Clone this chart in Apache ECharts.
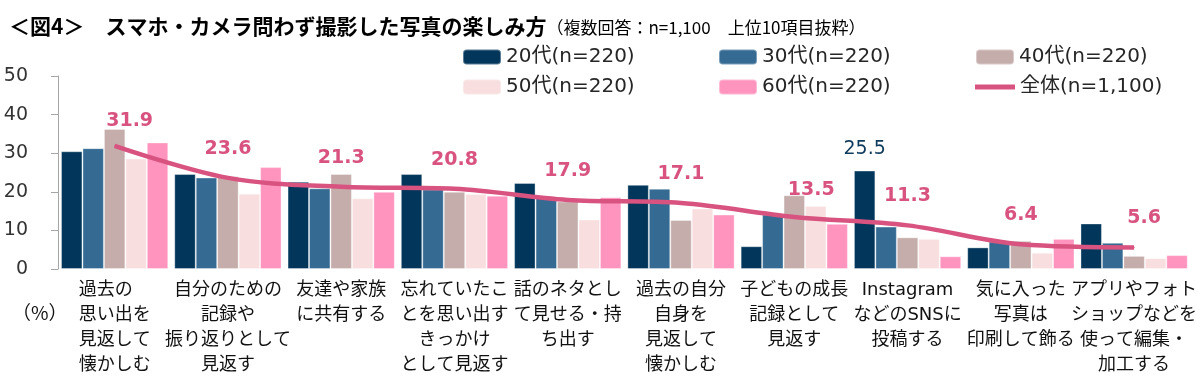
<!DOCTYPE html>
<html>
<head>
<meta charset="utf-8">
<script src="https://cdn.jsdelivr.net/npm/echarts@6/dist/echarts.min.js"></script>
<style>
html,body{margin:0;padding:0;background:#fff;}
#c{width:1200px;height:382px;}
</style>
</head>
<body>
<div id="c"></div>
<script>
// ---- data ----
const categories = [
  "過去の\u3000\n思い出を\n見返して\n懐かしむ",
  "自分のための\n記録や\n振り返りとして\n見返す",
  "友達や家族\nに共有する",
  "忘れていたこ\nとを思い出す\nきっかけ\nとして見返す",
  "話のネタとし\nて見せる・持\nち出す",
  "過去の自分\n自身を\n見返して\n懐かしむ",
  "子どもの成長\n記録として\n見返す",
  "Instagram\nなどのSNSに\n投稿する",
  "気に入った\n写真は\n印刷して飾る",
  "アプリやフォト\nショップなどを\n使って編集・\n加工する"
];
const seriesNames = ["20代(n=220)", "30代(n=220)", "40代(n=220)", "50代(n=220)", "60代(n=220)", "全体(n=1,100)"];
const age20 = [30.5, 24.6, 22.6, 24.6, 22.3, 21.8, 5.9, 25.5, 5.6, 11.8];
const age30 = [31.3, 23.7, 20.9, 20.6, 18.6, 20.8, 14.1, 11.0, 7.1, 6.8];
const age40 = [36.3, 24.0, 24.6, 20.0, 17.5, 12.7, 19.1, 8.2, 7.3, 3.4];
const age50 = [28.6, 19.5, 18.3, 19.4, 12.8, 15.7, 16.3, 7.8, 4.2, 2.8];
const age60 = [32.8, 26.4, 20.0, 19.0, 18.6, 14.1, 11.7, 3.3, 7.8, 3.6];
const total = [31.9, 23.6, 21.3, 20.8, 17.9, 17.1, 13.5, 11.3, 6.4, 5.6];
const yTicks = [0, 10, 20, 30, 40, 50];
const titleMain = "＜図4＞　スマホ・カメラ問わず撮影した写真の楽しみ方";
const titleSub = "（複数回答：n=1,100　上位10項目抜粋）";
const unitLabel = "（%）";
const labeledBar = { series: 0, index: 7 }; // 20代 Instagram value shown

// ---- styles ----
const colors = ["#02375B", "#356B93", "#C5ADAB", "#F8DEDE", "#FF95BF", "#D8537F"];
const lineLabelShift = [[15, 4], [0, 0], [0, 0], [0, 0], [0, 0], [0, 0], [17, 2], [0, 0], [0, 0], [10, 0]];
const LATIN = "'DejaVu Sans','Noto Sans CJK JP'";
const CJK = "'Noto Sans CJK JP','DejaVu Sans'";

const chart = echarts.init(document.getElementById('c'), null, { renderer: 'canvas' });

const barData = [age20, age30, age40, age50, age60];
const barSeries = barData.map((arr, si) => ({
  name: seriesNames[si],
  type: 'bar',
  barGap: '0%',
  barCategoryGap: '5.3%',
  itemStyle: { color: colors[si], borderColor: 'rgba(255,255,255,0.35)', borderWidth: 1 },
  emphasis: { disabled: true },
  data: arr.map((v, i) => {
    if (si === labeledBar.series && i === labeledBar.index) {
      return {
        value: v,
        label: {
          show: true, position: 'top', distance: 12,
          color: '#0E3A5C', fontSize: 19, fontFamily: LATIN, fontWeight: 'normal'
        }
      };
    }
    return v;
  }),
  z: 2
}));

const lineSeries = {
  name: seriesNames[5],
  type: 'line',
  smooth: 0.35,
  showSymbol: true,
  symbol: 'circle',
  symbolSize: 1,
  lineStyle: { color: colors[5], width: 4.5 },
  itemStyle: { color: colors[5] },
  emphasis: { disabled: true },
  label: {
    show: true, position: 'top', distance: 19,
    color: colors[5], fontSize: 19, fontWeight: 'bold', fontFamily: LATIN,
    formatter: p => Number(p.value).toFixed(1)
  },
  data: total.map((v, i) => ({ value: v, label: { offset: lineLabelShift[i] } })),
  z: 5
};

const legendBase = {
  orient: 'vertical',
  padding: 0,
  itemWidth: 38,
  itemHeight: 15,
  itemGap: 10,
  selectedMode: false,
  textStyle: { fontSize: 20, fontFamily: LATIN, color: '#262626', lineHeight: 20 }
};

const option = {
  animation: false,
  backgroundColor: '#ffffff',
  title: {
    left: 4, top: 4,
    text: '{a|' + titleMain + '}{b|' + titleSub + '}',
    textStyle: {
      rich: {
        a: { fontSize: 21, fontWeight: 'bold', fontFamily: CJK, color: '#000', lineHeight: 28, verticalAlign: 'bottom' },
        b: { fontSize: 17, fontWeight: 'normal', fontFamily: CJK, color: '#000', lineHeight: 28, verticalAlign: 'bottom', padding: [0, 0, 1, 0] }
      }
    }
  },
  legend: [
    Object.assign({}, legendBase, { left: 462, top: 47, data: [seriesNames[0], seriesNames[3]] }),
    Object.assign({}, legendBase, { left: 718, top: 47, data: [seriesNames[1], seriesNames[4]] }),
    Object.assign({}, legendBase, { left: 975, top: 47, data: [seriesNames[2]] }),
    Object.assign({}, legendBase, { left: 975, top: 77, itemHeight: 5, itemWidth: 40, data: [{ name: seriesNames[5], icon: 'rect' }] })
  ],
  grid: { left: 58, right: 7, top: 76, bottom: 113, containLabel: false },
  xAxis: {
    type: 'category',
    data: categories,
    axisLine: { show: false },
    axisTick: { show: false },
    axisLabel: {
      interval: 0, margin: 9,
      fontSize: 18, lineHeight: 25, color: '#111', fontFamily: LATIN, align: 'center'
    }
  },
  yAxis: {
    type: 'value',
    min: yTicks[0], max: yTicks[yTicks.length - 1], interval: yTicks[1] - yTicks[0],
    axisLine: { show: true, lineStyle: { color: '#A6A6A6', width: 1 } },
    axisTick: { show: true, length: 7, lineStyle: { color: '#A6A6A6' } },
    splitLine: { show: false },
    axisLabel: { margin: 30, fontSize: 19, color: '#333', fontFamily: LATIN, align: 'right' }
  },
  graphic: [
    {
      type: 'text', left: 12, top: 303,
      style: { text: unitLabel, fontSize: 19, fill: '#111', fontFamily: CJK }
    }
  ],
  series: barSeries.concat([lineSeries])
};

chart.setOption(option);
</script>
</body>
</html>
